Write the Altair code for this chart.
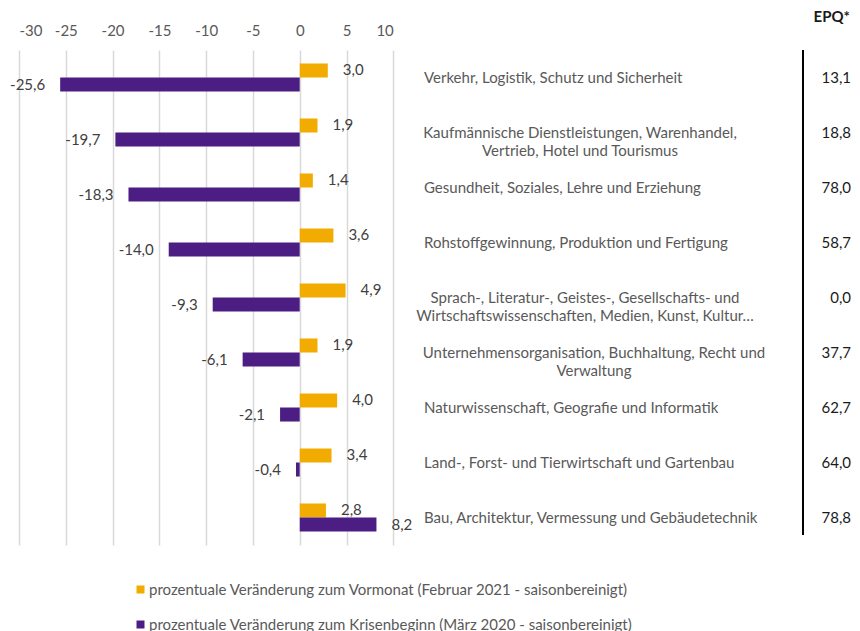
import altair as alt
import pandas as pd

categories = [
    "Verkehr, Logistik, Schutz und Sicherheit",
    "Kaufmännische Dienstleistungen, Warenhandel,\nVertrieb, Hotel und Tourismus",
    "Gesundheit, Soziales, Lehre und Erziehung",
    "Rohstoffgewinnung, Produktion und Fertigung",
    "Sprach-, Literatur-, Geistes-, Gesellschafts- und\nWirtschaftswissenschaften, Medien, Kunst, Kultur…",
    "Unternehmensorganisation, Buchhaltung, Recht und\nVerwaltung",
    "Naturwissenschaft, Geografie und Informatik",
    "Land-, Forst- und Tierwirtschaft und Gartenbau",
    "Bau, Architektur, Vermessung und Gebäudetechnik",
]
vormonat = [3.0, 1.9, 1.4, 3.6, 4.9, 1.9, 4.0, 3.4, 2.8]
krisenbeginn = [-25.6, -19.7, -18.3, -14.0, -9.3, -6.1, -2.1, -0.4, 8.2]
epq = [13.1, 18.8, 78.0, 58.7, 0.0, 37.7, 62.7, 64.0, 78.8]
x_ticks = [-30, -25, -20, -15, -10, -5, 0, 5, 10]

s1 = "prozentuale Veränderung zum Vormonat (Februar 2021 - saisonbereinigt)"
s2 = "prozentuale Veränderung zum Krisenbeginn (März 2020 - saisonbereinigt)"
series = [s1, s2]
colors = ["#F2AB00", "#4C1D82"]

FONT = "Lato"
FS = 15


def de(v):
    return f"{v:.1f}".replace(".", ",")


rows = []
for c, a, b in zip(categories, vormonat, krisenbeginn):
    rows.append({"cat": c, "series": s1, "value": a, "label": de(a)})
    rows.append({"cat": c, "series": s2, "value": b, "label": de(b)})
df = pd.DataFrame(rows)

df_cat = pd.DataFrame({
    "cat": categories,
    "epq": [de(v) for v in epq],
    "multi": ["\n" in c for c in categories],
})

yenc = alt.Y("cat:N", sort=categories, axis=None,
             scale=alt.Scale(paddingInner=0.49, paddingOuter=0.245))
yoff = alt.YOffset("series:N", sort=series,
                   scale=alt.Scale(paddingInner=0, paddingOuter=0))
xscale = alt.Scale(domain=[-30, 10], range=[11, 385.3], nice=False)

xaxis = alt.Axis(orient="top", values=x_ticks, domain=False, ticks=False,
                 grid=True, gridColor="#D9D9D9", gridWidth=1.5,
                 labelExpr="datum.value + ''", labelFont=FONT,
                 labelFontSize=FS, labelColor="#595959", labelPadding=12,
                 title=None)

base = alt.Chart(df).encode(y=yenc, yOffset=yoff)

bars = base.mark_bar().encode(
    x=alt.X("value:Q", scale=xscale, axis=xaxis),
    color=alt.Color("series:N", sort=series,
                    scale=alt.Scale(domain=series, range=colors),
                    legend=alt.Legend(orient="none", legendX=125, legendY=532,
                                      direction="vertical", title=None,
                                      symbolType="square", symbolSize=64,
                                      symbolStrokeWidth=0, labelFont=FONT,
                                      labelFontSize=FS, labelColor="#595959",
                                      labelLimit=0, rowPadding=19,
                                      labelOffset=1)),
)

pos_lbl = base.transform_filter("datum.value >= 0").mark_text(
    align="left", dx=15, font=FONT, fontSize=FS, color="#404040"
).encode(x=alt.X("value:Q", scale=xscale), text="label:N")

neg_lbl = base.transform_filter("datum.value < 0").mark_text(
    align="right", dx=-15, font=FONT, fontSize=FS, color="#404040"
).encode(x=alt.X("value:Q", scale=xscale), text="label:N")

cat_base = alt.Chart(df_cat).encode(y=yenc)

single = cat_base.transform_filter("!datum.multi").mark_text(
    align="left", font=FONT, fontSize=FS, color="#595959"
).encode(x=alt.value(416), text="cat:N")

multi_centers = {1: 572, 4: 577, 5: 586}
multi_layers = []
for idx, cx in multi_centers.items():
    multi_layers.append(
        cat_base.transform_filter(alt.datum.cat == categories[idx]).mark_text(
            align="center", lineBreak="\n", lineHeight=18, font=FONT,
            fontSize=FS, color="#595959"
        ).encode(x=alt.value(cx), text="cat:N")
    )

epq_txt = cat_base.mark_text(
    align="right", font=FONT, fontSize=FS, color="#1a1a1a"
).encode(x=alt.value(843), text="epq:N")

one = pd.DataFrame({"k": [0]})
vline = alt.Chart(one).mark_rule(color="black", strokeWidth=2).encode(
    x=alt.value(795), y=alt.value(0), y2=alt.value(485)
)
header = alt.Chart(one).mark_text(
    align="right", font=FONT, fontSize=FS, fontWeight="bold", color="#1a1a1a"
).encode(x=alt.value(842), y=alt.value(-33), text=alt.value("EPQ*"))

chart = alt.layer(bars, pos_lbl, neg_lbl, single, *multi_layers, epq_txt,
                  vline, header).properties(
    width=844, height=495,
    autosize=alt.AutoSizeParams(type="none"),
    padding={"left": 0, "top": 42, "right": 0, "bottom": 92},
).configure(background="white").configure_view(strokeWidth=0)

chart.save("out.html", embed_options={"renderer": "svg", "actions": False})
